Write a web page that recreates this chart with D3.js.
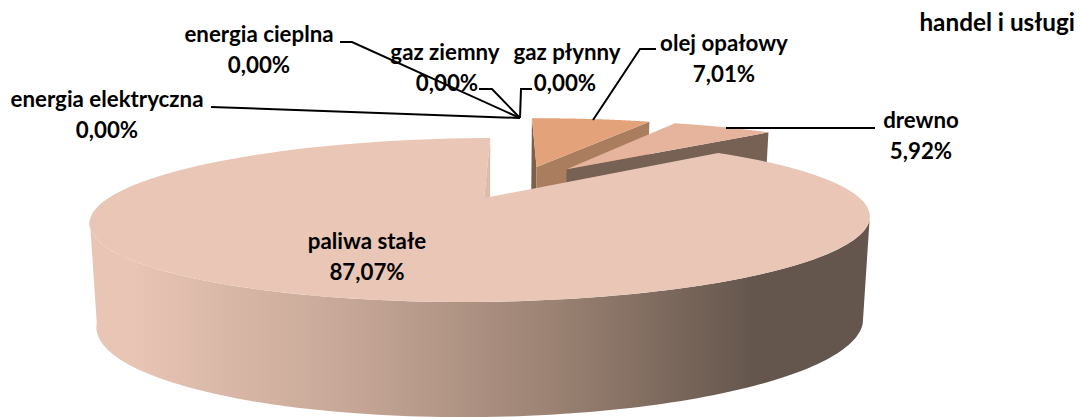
<!DOCTYPE html>
<html>
<head>
<meta charset="utf-8">
<script src="https://cdn.jsdelivr.net/npm/d3@7"></script>
<style>
  html, body { margin: 0; padding: 0; background: #fff; overflow: hidden; }
  text { font-family: Lato, "Open Sans", sans-serif; font-weight: 700; fill: #000; }
</style>
</head>
<body>
<div id="chart-area"></div>
<script>
//============================DATA============================
var categories = ["olej opałowy", "drewno", "paliwa stałe", "energia elektryczna", "energia cieplna", "gaz ziemny", "gaz płynny"];
var shares = [7.01, 5.92, 87.07, 0, 0, 0, 0];
var chartTitle = "handel i usługi";

//============================LAYOUT============================
var width = 1083, height = 417;

// label centre x, first baseline, and the leader line for each category
var labelLayout = {
    "olej opałowy":        { x: 724, y: 51,  pts: [[656, 49], [640, 49], [593, 120]] },
    "drewno":              { x: 921, y: 128, pts: [[875, 128], [726, 128]] },
    "paliwa stałe":        { x: 367, y: 249, pts: [] },
    "energia elektryczna": { x: 107, y: 107, pts: [[211, 107], [520, 118]] },
    "energia cieplna":     { x: 259, y: 42,  pts: [[340, 42], [352, 42], [520, 118]] },
    "gaz ziemny":          { x: 445, y: 60,  dx2: 2, pts: [[479, 89], [492, 89], [520, 118]] },
    "gaz płynny":          { x: 567, y: 60,  dx2: -2, pts: [[532, 89], [521, 89], [520, 118]] }
};

// slice colours: top face, end wall, start wall
var topColor = { "olej opałowy": "#e3a279", "drewno": "#e6b49c", "paliwa stałe": "#e9c6b6" };
var wallColor = { "olej opałowy": "#a97d5d", "drewno": "#776054", "paliwa stałe": "#dbbbab" };
var startWallColor = { "olej opałowy": "#7d5e47" };

//============================PROJECTION============================
// The chart is a perspective 3D pie. Ground coordinates are in pie radii,
// x to the right and z going away from the viewer.
var explode = 0.24;       // how far slices are pulled out of the centre
var startDeg = -1.2;      // rotation of the first slice
var rad = Math.PI / 180;

var screen = { vx: 542, cy: 198, R: 375.6, a: 76.1, k: 0.268, x0: 0.154 };
var floor = { vx: 541, cy: 298, R: 369, a: 87.2, k: 0.268, x0: 0.154 };

function project(p, x, z) {
    var w = 1 + p.k * z;
    return [p.vx + p.R * (x - p.x0) / w, p.cy - p.a * z / w];
}

var pie = d3.pie().sort(null).startAngle(startDeg * rad).endAngle((startDeg + 360) * rad);
var slices = pie(shares).map(function(d, i) {
    d.name = categories[i];
    d.mid = (d.startAngle + d.endAngle) / 2;
    return d;
});

// the biggest slice sits at the ground origin, the others are placed relative to it
var main = slices[2];
function centre(d) {
    return [explode * (Math.sin(d.mid) - Math.sin(main.mid)),
            explode * (Math.cos(d.mid) - Math.cos(main.mid))];
}
function rim(d, angle, p) {
    var c = centre(d);
    return project(p, c[0] + Math.sin(angle), c[1] + Math.cos(angle));
}
function apex(d, p) {
    var c = centre(d);
    return project(p, c[0], c[1]);
}
function arcPoints(d, a0, a1, p) {
    return d3.range(0, 121).map(function(i) {
        return rim(d, a0 + (a1 - a0) * i / 120, p);
    });
}

var line = d3.line();

//============================DRAW============================
var svg = d3.select("#chart-area").append("svg")
    .attr("width", width)
    .attr("height", height)
    .style("display", "block");

// side gradient of the large slice
var grad = svg.append("defs").append("linearGradient")
    .attr("id", "sideGrad")
    .attr("gradientUnits", "userSpaceOnUse")
    .attr("x1", 90).attr("x2", 870).attr("y1", 0).attr("y2", 0);
grad.append("stop").attr("offset", 0.05).attr("stop-color", "#e9c5b5");
grad.append("stop").attr("offset", 0.35).attr("stop-color", "#c4a595");
grad.append("stop").attr("offset", 0.6).attr("stop-color", "#9a8172");
grad.append("stop").attr("offset", 0.85).attr("stop-color", "#65564d");
grad.append("stop").attr("offset", 1).attr("stop-color", "#65564d");

// small slices first, back to front
slices.slice(0, 2).forEach(function(d) {
    if (startWallColor[d.name]) {
        svg.append("path")
            .attr("d", line([rim(d, d.startAngle, screen), apex(d, screen), apex(d, floor), rim(d, d.startAngle, floor)]) + "Z")
            .attr("fill", startWallColor[d.name]);
    }
    svg.append("path")
        .attr("d", line([apex(d, screen), rim(d, d.endAngle, screen), rim(d, d.endAngle, floor), apex(d, floor)]) + "Z")
        .attr("fill", wallColor[d.name]);
    svg.append("path")
        .attr("d", line([apex(d, screen)].concat(arcPoints(d, d.startAngle, d.endAngle, screen))) + "Z")
        .attr("fill", topColor[d.name]);
});

// big slice: inner wall, outer side, top
svg.append("path")
    .attr("d", line([rim(main, main.endAngle, screen), apex(main, screen), apex(main, floor), rim(main, main.endAngle, floor)]) + "Z")
    .attr("fill", wallColor[main.name]);

var sideFrom = 105.5 * rad, sideTo = 254.5 * rad;
svg.append("path")
    .attr("d", line(arcPoints(main, sideFrom, sideTo, screen).concat(arcPoints(main, sideTo, sideFrom, floor))) + "Z")
    .attr("fill", "url(#sideGrad)");

svg.append("path")
    .attr("d", line([apex(main, screen)].concat(arcPoints(main, main.startAngle, main.endAngle, screen))) + "Z")
    .attr("fill", topColor[main.name]);

// leader lines
slices.forEach(function(d) {
    var pts = labelLayout[d.name].pts;
    if (pts.length) {
        svg.append("path")
            .attr("d", line(pts))
            .attr("fill", "none")
            .attr("stroke", "#000")
            .attr("stroke-width", 2);
    }
});

// labels
var fmt = function(v) { return v.toFixed(2).replace(".", ",") + "%"; };
var labelSize = 22.3;
slices.forEach(function(d) {
    var l = labelLayout[d.name];
    svg.append("text")
        .attr("x", l.x).attr("y", l.y)
        .attr("text-anchor", "middle")
        .attr("font-size", labelSize)
        .text(d.name);
    svg.append("text")
        .attr("x", l.x + (l.dx2 || 0)).attr("y", l.y + 31)
        .attr("text-anchor", "middle")
        .attr("font-size", labelSize)
        .text(fmt(d.data));
});

// title
svg.append("text")
    .attr("x", 1075).attr("y", 31)
    .attr("text-anchor", "end")
    .attr("font-size", 24.3)
    .text(chartTitle);
</script>
</body>
</html>
